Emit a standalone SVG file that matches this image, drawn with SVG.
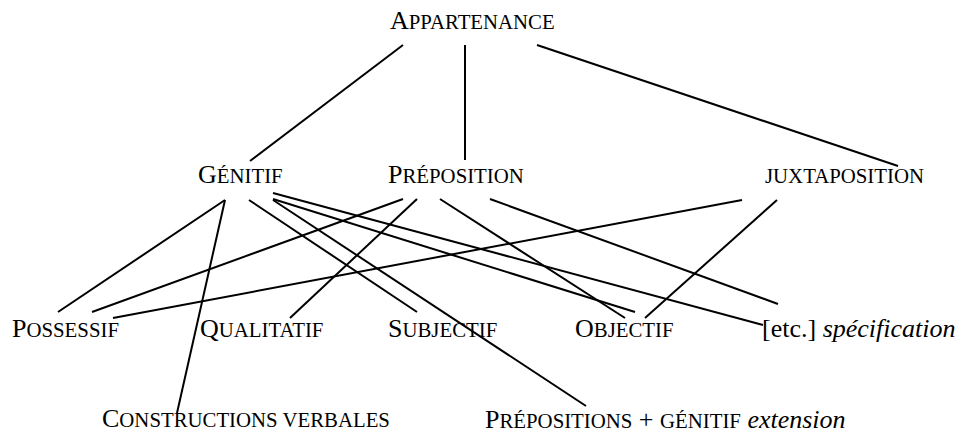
<svg xmlns="http://www.w3.org/2000/svg" width="965" height="434" viewBox="0 0 965 434">
<style>
.t{font-family:"Liberation Serif","Times New Roman",serif;font-size:26px;fill:#000}
.sc{font-size:20.8px}
.it{font-style:italic}
#connectors line{stroke:#000;stroke-width:2;fill:none}
</style>
<rect width="965" height="434" fill="#fff"/>
<g id="connectors">
<line x1="403" y1="45" x2="250" y2="161"/>
<line x1="465" y1="45" x2="465" y2="160"/>
<line x1="537" y1="45" x2="898" y2="166"/>
<line x1="225" y1="200" x2="58" y2="312"/>
<line x1="225" y1="200" x2="177" y2="413"/>
<line x1="249" y1="200" x2="417" y2="312"/>
<line x1="273" y1="200" x2="586" y2="406"/>
<line x1="273" y1="199" x2="635" y2="312"/>
<line x1="273" y1="193" x2="763" y2="325"/>
<line x1="403" y1="199" x2="92" y2="312"/>
<line x1="417" y1="199" x2="290" y2="318"/>
<line x1="440" y1="199" x2="625" y2="318"/>
<line x1="490" y1="199" x2="778" y2="304"/>
<line x1="742" y1="200" x2="113" y2="318"/>
<line x1="777" y1="200" x2="645" y2="318"/>
</g>
<g id="appartenance"><text class="t" x="390" y="29">A<tspan class="sc">PPARTENANCE</tspan></text></g>
<g id="genitif"><text class="t" x="198" y="183">G<tspan class="sc">ÉNITIF</tspan></text></g>
<g id="preposition"><text class="t" x="388" y="183">P<tspan class="sc">RÉPOSITION</tspan></text></g>
<g id="juxtaposition"><text class="t" x="765" y="183"><tspan class="sc">JUXTAPOSITION</tspan></text></g>
<g id="possessif"><text class="t" x="12" y="337">P<tspan class="sc">OSSESSIF</tspan></text></g>
<g id="qualitatif"><text class="t" x="200" y="337">Q<tspan class="sc">UALITATIF</tspan></text></g>
<g id="subjectif"><text class="t" x="388" y="337">S<tspan class="sc">UBJECTIF</tspan></text></g>
<g id="objectif"><text class="t" x="575" y="337">O<tspan class="sc">BJECTIF</tspan></text></g>
<g id="specification"><text class="t" x="762" y="337">[etc.] <tspan class="it">spécification</tspan></text></g>
<g id="constructions"><text class="t" x="102" y="427">C<tspan class="sc">ONSTRUCTIONS VERBALES</tspan></text></g>
<g id="prepositions-genitif"><text class="t" x="485" y="428">P<tspan class="sc">RÉPOSITIONS</tspan> + <tspan class="sc">GÉNITIF</tspan> <tspan class="it">extension</tspan></text></g>
</svg>
